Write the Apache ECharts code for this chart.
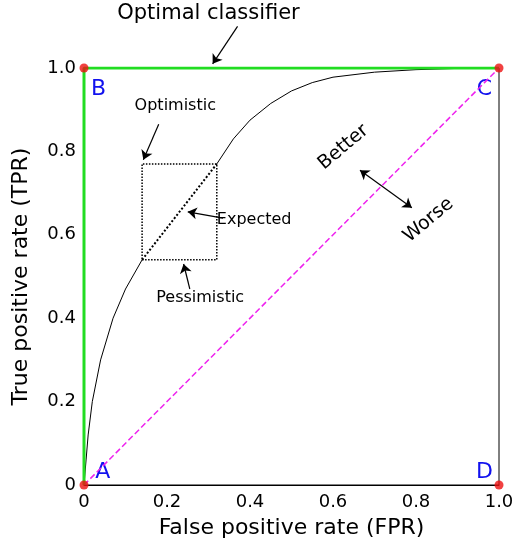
<!DOCTYPE html><html><head><meta charset="utf-8">
<script src="https://cdn.jsdelivr.net/npm/echarts@6/dist/echarts.min.js"></script></head>
<body style="margin:0"><div id="c" style="width:520px;height:552px"></div>
<script>
const xTicks=['0','0.2','0.4','0.6','0.8','1.0'];
const yTicks=['0','0.2','0.4','0.6','0.8','1.0'];
const curveLow=[[0,0],[0.005,0.06],[0.01,0.12],[0.02,0.2],[0.04,0.3],[0.07,0.4],[0.1,0.47],[0.14,0.54]];
const curveMid=[[0.14,0.54],[0.32,0.77]];
const curveHigh=[[0.32,0.77],[0.36,0.83],[0.4,0.875],[0.45,0.915],[0.5,0.945],[0.55,0.965],[0.6,0.978],[0.7,0.99],[0.8,0.996],[0.9,0.999],[1,1]];
const optimal=[[0,0],[0,1],[1,1]];
const diagonal=[[0,0],[1,1]];
const box=[[0.14,0.54],[0.32,0.54],[0.32,0.77],[0.14,0.77],[0.14,0.54]];
const corners=[[0,0],[0,1],[1,1],[1,0]];
const cornerLabels=[['A',0.045,0.03],['B',0.035,0.95],['C',0.965,0.95],['D',0.965,0.03]];
const arrows=[[[0.37,1.10],[0.31,1.01]],[[0.18,0.865],[0.143,0.78]],[[0.335,0.64],[0.25,0.655]],[[0.255,0.47],[0.24,0.53]]];
const dblArrow=[[0.665,0.755],[0.79,0.665]];
const texts=[['Optimal classifier',0.30,1.13,21,0],['Optimistic',0.22,0.91,16,0],['Expected',0.41,0.635,16,0],['Pessimistic',0.28,0.45,16,0],['Better',0.625,0.81,19,40],['Worse',0.83,0.635,19,40]];
const ch=echarts.init(document.getElementById('c'));
const ax=(name,ticks,gap)=>({type:'value',min:0,max:1,interval:0.2,name:name,nameLocation:'middle',nameGap:gap,
 nameTextStyle:{fontSize:22,color:'#000',fontFamily:'DejaVu Sans'},
 axisLine:{show:true,onZero:false,lineStyle:{color:'#000'}},axisTick:{show:false},splitLine:{show:false},
 axisLabel:{fontSize:18,color:'#000',fontFamily:'DejaVu Sans',formatter:v=>ticks[Math.round(v*5)]}});
const lineS=(d,st)=>({type:'line',data:d,symbol:'none',lineStyle:st,silent:true,z:st.z||2});
ch.setOption({animation:false,
 grid:{left:84,right:21,top:68,bottom:67,show:true,borderColor:'#000',borderWidth:1},
 xAxis:ax('False positive rate (FPR)',xTicks,32),
 yAxis:ax('True positive rate (TPR)',yTicks,52),
 series:[
  lineS(curveLow,{color:'#000',width:1}),
  lineS(curveMid,{color:'#000',width:2,type:'dotted'}),
  lineS(curveHigh,{color:'#000',width:1}),
  lineS(box,{color:'#000',width:1.5,type:'dotted'}),
  lineS(diagonal,{color:'#ee22ee',width:1.5,type:'dashed'}),
  lineS(optimal,{color:'#22dd22',width:3,z:3}),
  {type:'scatter',data:corners,symbolSize:9,itemStyle:{color:'#ee1111'},z:5,clip:false},
  {type:'lines',coordinateSystem:'cartesian2d',clip:false,symbol:['none','arrow'],symbolSize:9,
   lineStyle:{color:'#000',width:1.2,opacity:1},data:arrows.map(a=>({coords:a}))},
  {type:'lines',coordinateSystem:'cartesian2d',clip:false,symbol:['arrow','arrow'],symbolSize:9,
   lineStyle:{color:'#000',width:1.2,opacity:1},data:[{coords:dblArrow}]}
 ]});
const g=[];
cornerLabels.forEach(l=>{const p=ch.convertToPixel({gridIndex:0},[l[1],l[2]]);
 g.push({type:'text',x:p[0],y:p[1],style:{text:l[0],fontSize:22,fill:'#1111ee',fontFamily:'DejaVu Sans',align:'center',verticalAlign:'middle'}});});
texts.forEach(t=>{const p=ch.convertToPixel({gridIndex:0},[t[1],t[2]]);
 g.push({type:'text',x:p[0],y:p[1],rotation:t[4]*Math.PI/180,style:{text:t[0],fontSize:t[3],fill:'#000',fontFamily:'DejaVu Sans',align:'center',verticalAlign:'middle'}});});
ch.setOption({graphic:g});
</script></body></html>
